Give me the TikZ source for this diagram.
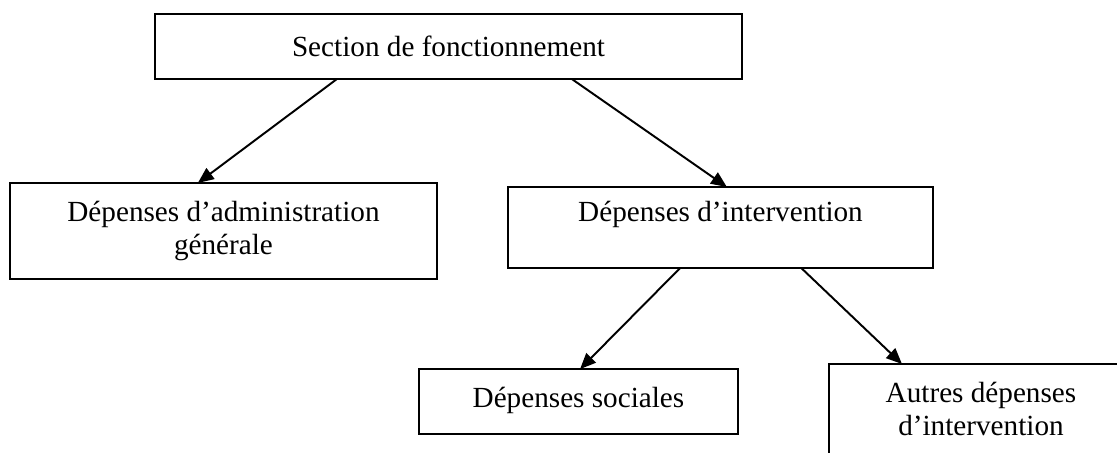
\documentclass[tikz,border=0pt]{standalone}
\usepackage{fontspec}
\setmainfont{Liberation Serif}
\usetikzlibrary{arrows.meta,calc}
\begin{document}
\begin{tikzpicture}[x=0.411pt, y=-0.411pt, line width=0.8pt,
  box/.style={draw, rectangle, inner sep=0pt, outer sep=0pt, align=center, font=\fontsize{12}{13.8}\selectfont},
  fleche/.style={-{Triangle[length=6.5pt,width=5.5pt]}}]
\useasboundingbox (0,0) rectangle (1117,452);
\clip (0,0) rectangle (1117,452);
% boites
\node[box, minimum width=241.3pt, minimum height=26.7pt] (fonct) at (448.5,46.5) {Section de fonctionnement};
\node[box, minimum width=175.5pt, minimum height=39.5pt] (admin) at (223.5,231) {Dépenses d’administration\\générale};
\node[box, minimum width=174.7pt, minimum height=33.3pt, text depth=13.6pt] (interv) at (720.5,227.5) {Dépenses d’intervention};
\node[box, minimum width=131.1pt, minimum height=26.7pt, text depth=3.2pt] (sociales) at (578.5,401.5) {Dépenses sociales};
\node[box, minimum width=124.9pt, minimum height=40.3pt, text depth=3.3pt] (autres) at (981,413) {Autres dépenses\\d’intervention};
% fleches
\draw[fleche] ($(fonct.south west)!0.31!(fonct.south east)$) -- ($(admin.north west)!0.44!(admin.north east)$);
\draw[fleche] ($(fonct.south west)!0.71!(fonct.south east)$) -- ($(interv.north west)!0.515!(interv.north east)$);
\draw[fleche] ($(interv.south west)!0.405!(interv.south east)$) -- ($(sociales.north west)!0.505!(sociales.north east)$);
\draw[fleche] ($(interv.south west)!0.69!(interv.south east)$) -- ($(autres.north west)!0.24!(autres.north east)$);
\end{tikzpicture}
\end{document}
